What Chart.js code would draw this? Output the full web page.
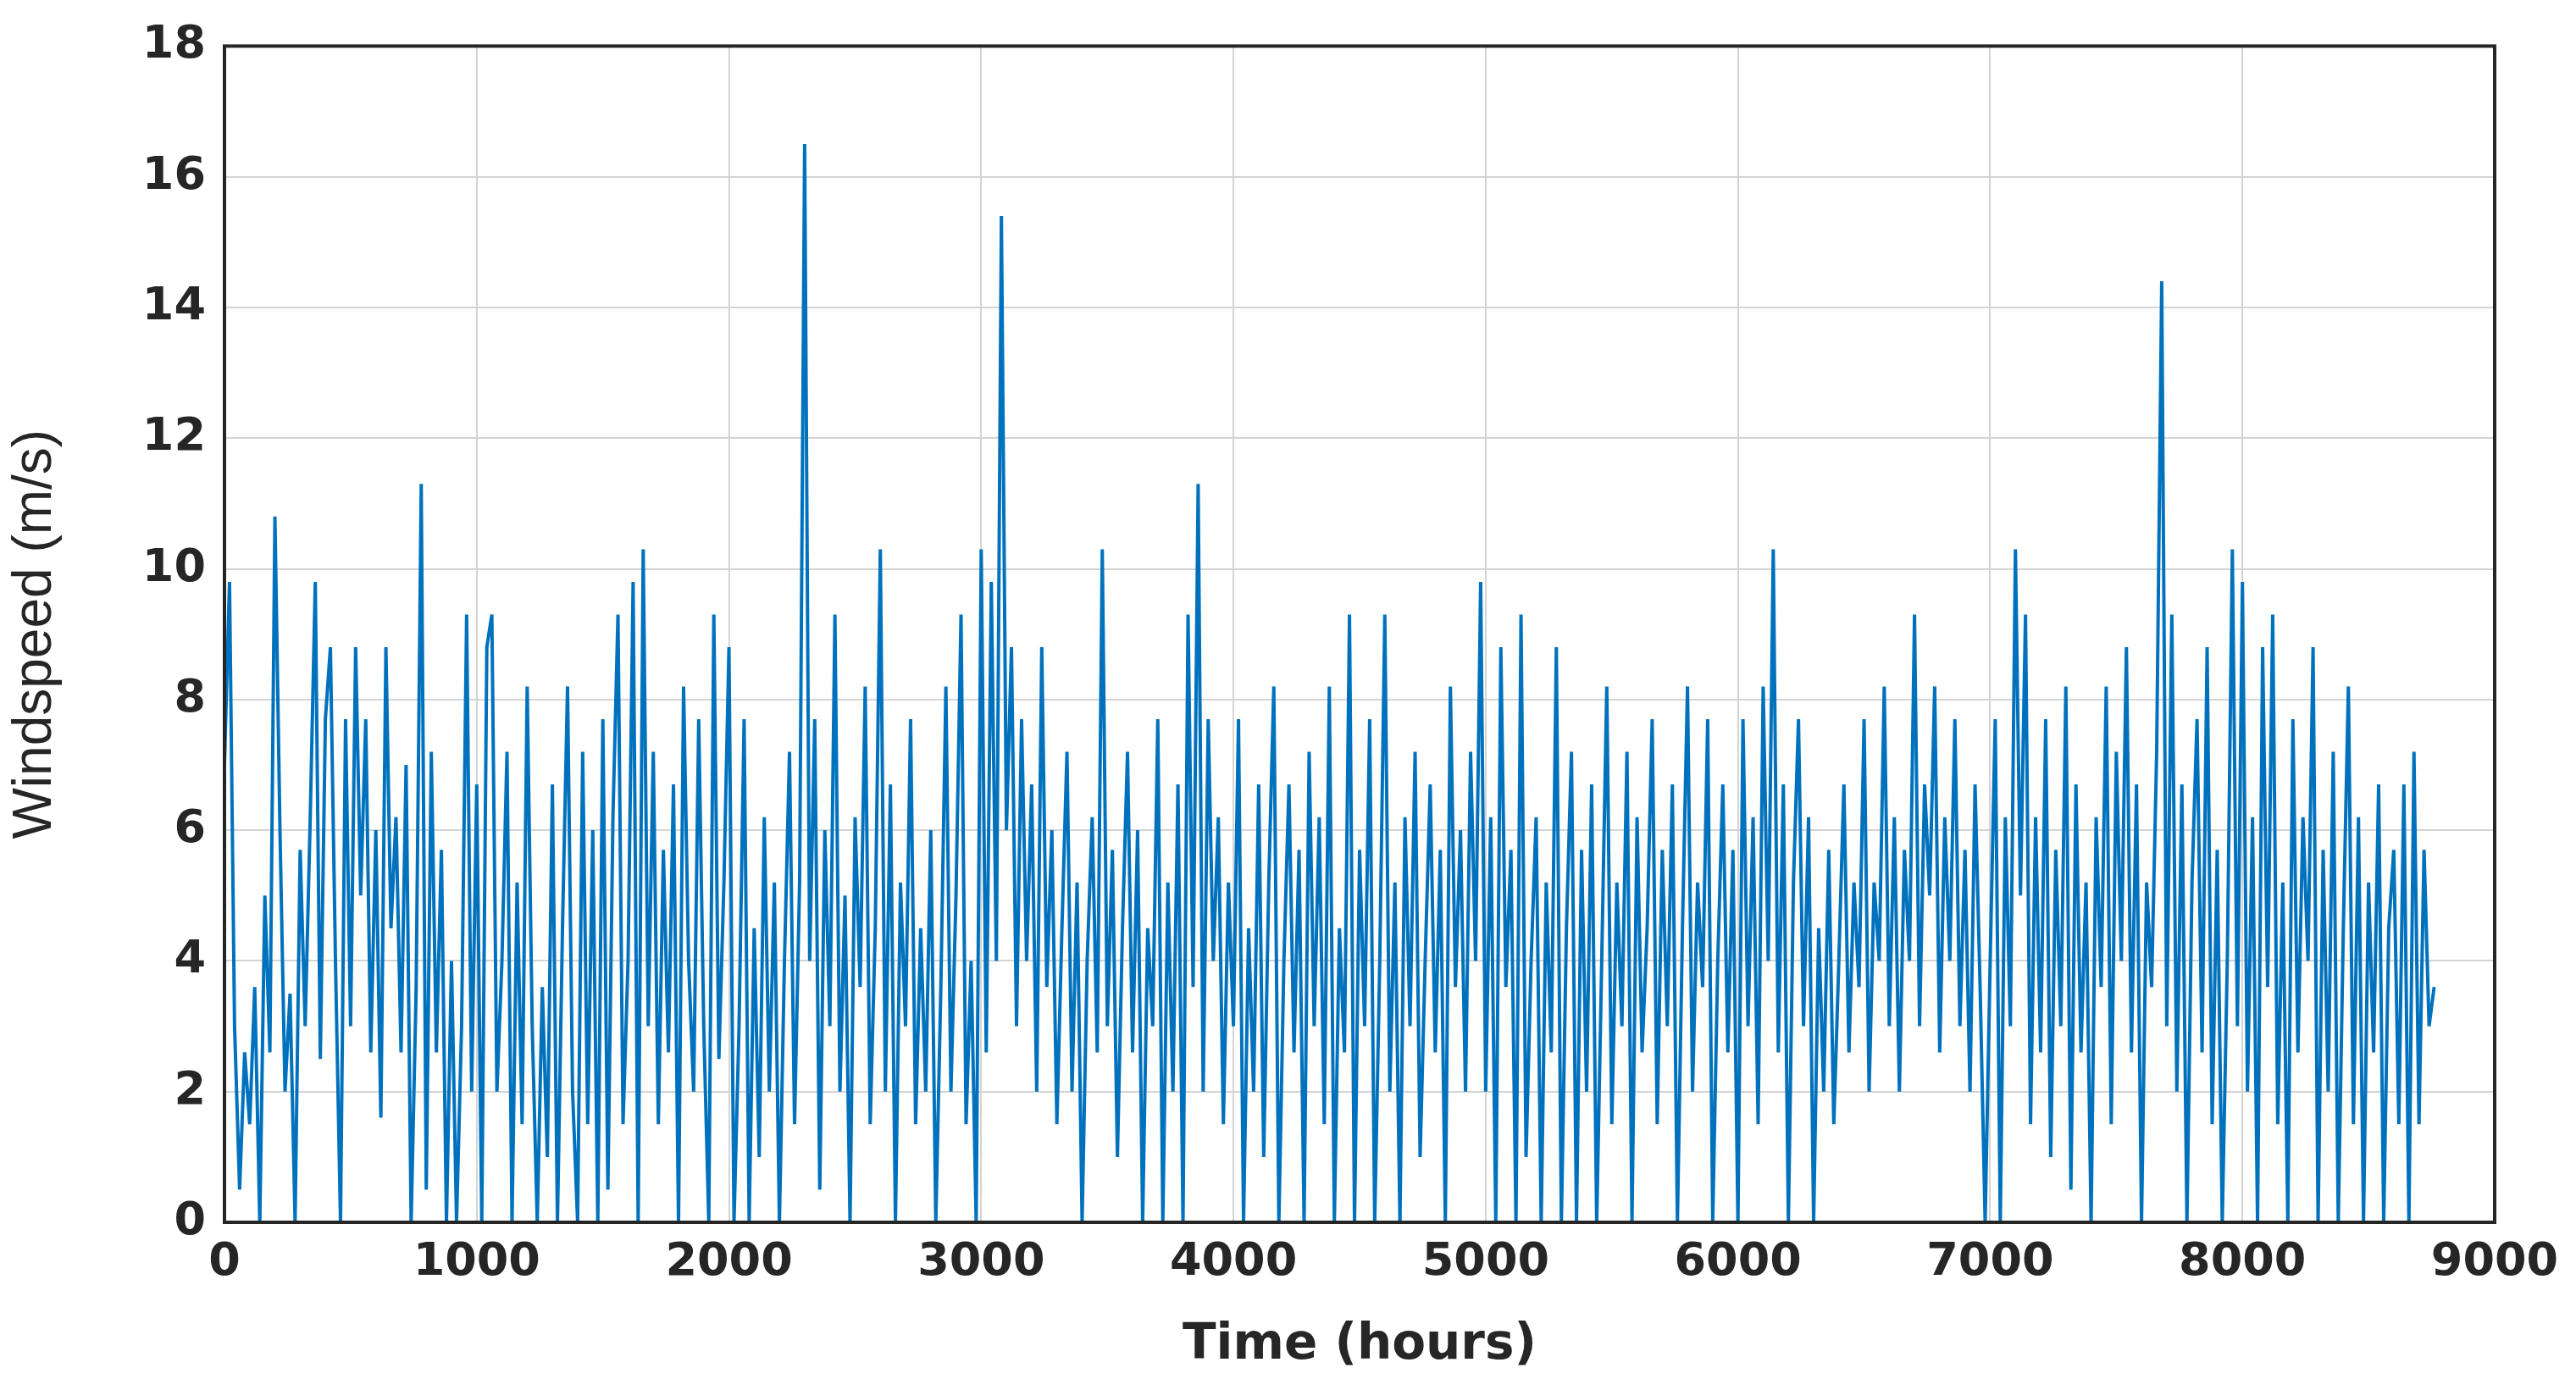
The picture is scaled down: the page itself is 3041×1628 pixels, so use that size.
<!DOCTYPE html>
<html>
<head>
<meta charset="utf-8">
<script src="https://cdn.jsdelivr.net/npm/chart.js@4/dist/chart.umd.min.js"></script>
<style>
  html, body { margin: 0; padding: 0; background: #fff; }
  #wrap { width: 3041px; height: 1628px; }
</style>
</head>
<body>
<div id="wrap"><canvas id="wind"></canvas></div>
<script>
// hourly windspeed at roughly 20 h spacing
const stepHours = 20;
const speed0 = [7,9.8,3,0.5,2.6,1.5,3.6,0,5,2.6,10.8,6,2,3.5,0,5.7,3,6.2,9.8,2.5,7.7,8.8,4,0,7.7,3,8.8,5,7.7,2.6,6,1.6,8.8,4.5,6.2,2.6,7,0,3.6,11.3,0.5,7.2,2.6,5.7,0,4,0,3,9.3,2];
const speed1 = [6.7,0,8.8,9.3,2,4,7.2,0,5.2,1.5,8.2,3,0,3.6,1,6.7,0,4.5,8.2,2,0,7.2,1.5,6,0,7.7,0.5,6.2,9.3,1.5,4,9.8,0,10.3,3,7.2,1.5,5.7,2.6,6.7,0,8.2,4,2,7.7,3,0,9.3,2.5,5.2];
const speed2 = [8.8,0,3,7.7,0,4.5,1,6.2,2,5.2,0,4,7.2,1.5,5.2,16.5,4,7.7,0.5,6,3,9.3,2,5,0,6.2,3.6,8.2,1.5,4.5,10.3,2,6.7,0,5.2,3,7.7,1.5,4.5,2,6,0,3.6,8.2,2,5,9.3,1.5,4,0];
const speed3 = [10.3,2.6,9.8,4,15.4,6,8.8,3,7.7,4,6.7,2,8.8,3.6,6,1.5,4.5,7.2,2,5.2,0,4,6.2,2.6,10.3,3,5.7,1,4.5,7.2,2.6,6,0,4.5,3,7.7,0,5.2,2,6.7,0,9.3,3.6,11.3,2,7.7,4,6.2,1.5,5.2];
const speed4 = [3,7.7,0,4.5,2,6.7,1,5.2,8.2,0,4,6.7,2.6,5.7,0,7.2,3,6.2,1.5,8.2,0,4.5,2.6,9.3,0,5.7,3,7.7,0,4,9.3,2,5.2,0,6.2,3,7.2,1,4,6.7,2.6,5.7,0,8.2,3.6,6,2,7.2,4,9.8];
const speed5 = [2,6.2,0,8.8,3.6,5.7,0,9.3,1,4,6.2,0,5.2,2.6,8.8,0,4.5,7.2,0,5.7,2,6.7,0,4,8.2,1.5,5.2,3,7.2,0,6.2,2.6,4.5,7.7,1.5,5.7,3,6.7,0,4.5,8.2,2,5.2,3.6,7.7,0,4,6.7,2.6,5.7];
const speed6 = [0,7.7,3,6.2,1.5,8.2,4,10.3,2.6,6.7,0,5.2,7.7,3,6.2,0,4.5,2,5.7,1.5,4,6.7,2.6,5.2,3.6,7.7,2,5.2,4,8.2,3,6.2,2,5.7,4,9.3,3,6.7,5,8.2,2.6,6.2,4,7.7,3,5.7,2,6.7,3.6,0];
const speed7 = [4,7.7,0,6.2,3,10.3,5,9.3,1.5,6.2,2.6,7.7,1,5.7,3,8.2,0.5,6.7,2.6,5.2,0,6.2,3.6,8.2,1.5,7.2,4,8.8,2.6,6.7,0,5.2,3.6,7.2,14.4,3,9.3,2,6.7,0,5.2,7.7,2.6,8.8,1.5,5.7,0,4,10.3,3];
const speed8 = [9.8,2,6.2,0,8.8,3.6,9.3,1.5,5.2,0,7.7,2.6,6.2,4,8.8,0,5.7,2,7.2,0,4.5,8.2,1.5,6.2,0,5.2,2.6,6.7,0,4.5,5.7,1.5,6.7,0,7.2,1.5,5.7,3,3.6];

const windspeed = [].concat(speed0, speed1, speed2, speed3, speed4, speed5, speed6, speed7, speed8);
const points = windspeed.map((v, i) => ({ x: i * stepHours, y: v }));

const ink = '#262626';
const tickFont = { family: 'DejaVu Sans, sans-serif', size: 54, weight: 'bold' };

// MATLAB-style box around the plot area
const boxPlugin = {
  id: 'box',
  afterDraw(chart) {
    const { ctx, chartArea: a } = chart;
    ctx.save();
    ctx.strokeStyle = ink;
    ctx.lineWidth = 4;
    ctx.strokeRect(a.left, a.top, a.right - a.left, a.bottom - a.top);
    ctx.restore();
  }
};

new Chart(document.getElementById('wind'), {
  type: 'scatter',
  data: {
    datasets: [{
      data: points,
      showLine: true,
      borderColor: '#0072BD',
      borderWidth: 4,
      pointRadius: 0,
      tension: 0
    }]
  },
  options: {
    responsive: true,
    maintainAspectRatio: false,
    animation: false,
    layout: { padding: { top: 35, right: 96, left: 0, bottom: 0 } },
    plugins: { legend: { display: false }, tooltip: { enabled: false } },
    scales: {
      x: {
        type: 'linear', min: 0, max: 9000,
        ticks: { stepSize: 1000, color: ink, font: tickFont, padding: 16, maxRotation: 0,
                 callback: v => String(v) },
        grid: { color: '#d4d4d4', lineWidth: 2, drawTicks: false },
        border: { display: false },
        title: { display: true, text: 'Time (hours)', color: ink,
                 font: { family: 'DejaVu Sans, sans-serif', size: 58, weight: 'bold' }, padding: { top: 0 } },
        afterFit(s) { s.height = 185; }
      },
      y: {
        min: 0, max: 18,
        ticks: { stepSize: 2, color: ink, font: tickFont, padding: 22 },
        grid: { color: '#d4d4d4', lineWidth: 2, drawTicks: false },
        border: { display: false },
        title: { display: true, text: 'Windspeed (m/s)', color: ink,
                 font: { family: 'Liberation Sans Narrow, Liberation Sans, sans-serif', size: 64 }, padding: { bottom: 4 } },
        afterFit(s) { s.width = 265; }
      }
    }
  },
  plugins: [boxPlugin]
});
</script>
</body>
</html>
